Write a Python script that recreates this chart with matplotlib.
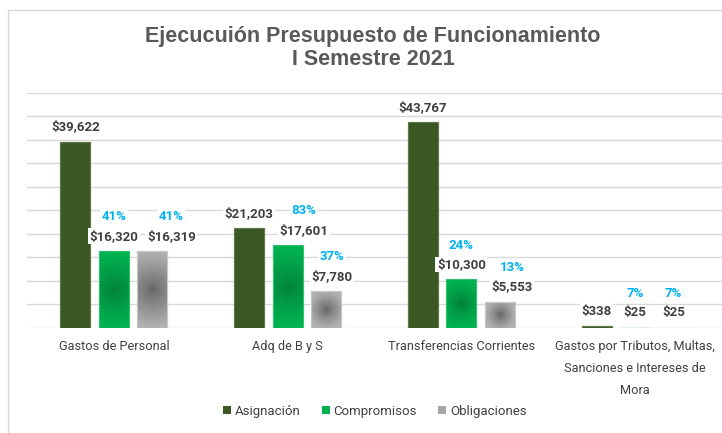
import matplotlib
matplotlib.use("Agg")
import matplotlib.pyplot as plt
import numpy as np
from matplotlib.colors import LinearSegmentedColormap
from matplotlib.patches import Patch, Rectangle

# datos (millones de pesos)
categorias = ["Gastos de Personal", "Adq de B y S", "Transferencias Corrientes",
              "Gastos por Tributos, Multas,\nSanciones e Intereses de\nMora"]
series = ["Asignación", "Compromisos", "Obligaciones"]
asignacion = [39622, 21203, 43767, 338]
compromisos = [16320, 17601, 10300, 25]
obligaciones = [16319, 7780, 5553, 25]
pct_compromisos = ["41%", "83%", "24%", "7%"]
pct_obligaciones = ["41%", "37%", "13%", "7%"]

W, H = 722, 433
LABEL_FONT = ["Roboto", "DejaVu Sans"]
# pequeños desplazamientos manuales de etiquetas (serie, categoria) -> dx px
nudges = {(1, 1): 16, (2, 0): 19, (2, 1): 6, (2, 2): 12}

fig = plt.figure(figsize=(W / 100, H / 100), dpi=100)
ax = fig.add_axes([27 / W, 1 - 327.7 / H, 695 / W, (327.7 - 93) / H])

# borde del area del grafico
fig.patches.append(Rectangle((8 / W, -0.1), 1.2, 1 - 10 / H + 0.1, transform=fig.transFigure,
                             fill=False, edgecolor="#D9D9D9", lw=1))

x = np.arange(len(categorias))
bw = 0.173
step = 0.222
valores = [asignacion, compromisos, obligaciones]


def gradient_fill(rect, c_center, c_edge):
    cmap = LinearSegmentedColormap.from_list("g", [c_center, c_edge])
    h_px = rect.get_height() / 50000 * 234.7
    w_px = 30.0
    yy, xx = np.mgrid[-1:1:120j, -1:1:60j]
    # distancia en pixeles, para una mancha redonda
    d = np.sqrt((xx * w_px / 2) ** 2 + (yy * h_px / 2) ** 2)
    rad = max(w_px / 2, min(h_px / 2, 40))
    r = np.clip(d / rad, 0, 1) ** 0.8
    bx, by = rect.get_x(), rect.get_y()
    im = ax.imshow(r, cmap=cmap, extent=(bx, bx + rect.get_width(), by, by + rect.get_height()),
                   aspect="auto", zorder=3, interpolation="bilinear")
    im.set_clip_path(rect)


bars0 = ax.bar(x - step, asignacion, bw, color="#3A5724", edgecolor="#5E7A4A", lw=0.8, zorder=3)
bars1 = ax.bar(x, compromisos, bw, color="#00B050", edgecolor="#33C070", lw=0.8, zorder=3)
bars2 = ax.bar(x + step, obligaciones, bw, color="#AAA7A7", edgecolor="#C8C6C6", lw=0.8, zorder=3)
for b in bars1:
    gradient_fill(b, "#00823A", "#00B451")
for b in bars2:
    gradient_fill(b, "#666666", "#B2B0B0")
for bars in (bars0, bars1, bars2):
    for b in bars:
        ax.add_patch(Rectangle((b.get_x(), b.get_y()), b.get_width(), b.get_height(),
                               fill=False, edgecolor=b.get_edgecolor(), lw=0.8, zorder=4))

ax.set_xlim(-0.5, 3.5)
ax.set_ylim(0, 50000)
ax.set_yticks(np.arange(0, 50001, 5000))
ax.yaxis.grid(True, color="#D9D9D9", lw=1)
ax.set_axisbelow(True)
ax.tick_params(axis="y", length=0, labelleft=False)
for s in ax.spines.values():
    s.set_visible(False)
ax.set_xticks(x)
ax.set_xticklabels(categorias, fontsize=9.2, color="#404040", family=LABEL_FONT, linespacing=1.9)
ax.tick_params(axis="x", length=0, pad=9)

bbox = dict(facecolor="white", edgecolor="none", pad=1)
for si, (bars, vals) in enumerate(zip((bars0, bars1, bars2), valores)):
    for ci, (b, v) in enumerate(zip(bars, vals)):
        dx = nudges.get((si, ci), 0)
        cx = b.get_x() + b.get_width() / 2
        ax.annotate(f"${v:,}", (cx, v), xytext=(dx * 0.72, 6), textcoords="offset points",
                    ha="center", va="bottom", fontsize=9.5, fontweight="bold",
                    color="#404040", family=LABEL_FONT, bbox=bbox, zorder=5)
        if si > 0:
            pct = (pct_compromisos if si == 1 else pct_obligaciones)[ci]
            ax.annotate(pct, (cx, v), xytext=(dx * 0.72, 20), textcoords="offset points",
                        ha="center", va="bottom", fontsize=9.5, fontweight="bold",
                        color="#00B0F0", family=LABEL_FONT, bbox=bbox, zorder=5)

fig.text(373 / W, 1 - 48 / H, "Ejecucuión Presupuesto de Funcionamiento\nI Semestre 2021",
         ha="center", va="center", fontsize=15.5, fontweight="bold", color="#595959",
         family=["Liberation Sans", "DejaVu Sans"], linespacing=1.1)

colores_leg = ["#3A5724", "#00B050", "#A6A6A6"]
handles = [Patch(facecolor=c, edgecolor="none", label=s) for c, s in zip(colores_leg, series)]
fig.legend(handles=handles, loc="center", bbox_to_anchor=(375 / W, 1 - 411 / H), ncol=3,
           frameon=False, handlelength=0.6, handleheight=0.6, handletextpad=0.3,
           columnspacing=1.6, prop={"family": LABEL_FONT, "size": 9.5}, labelcolor="#404040")

fig.savefig("out.png", dpi=100)
